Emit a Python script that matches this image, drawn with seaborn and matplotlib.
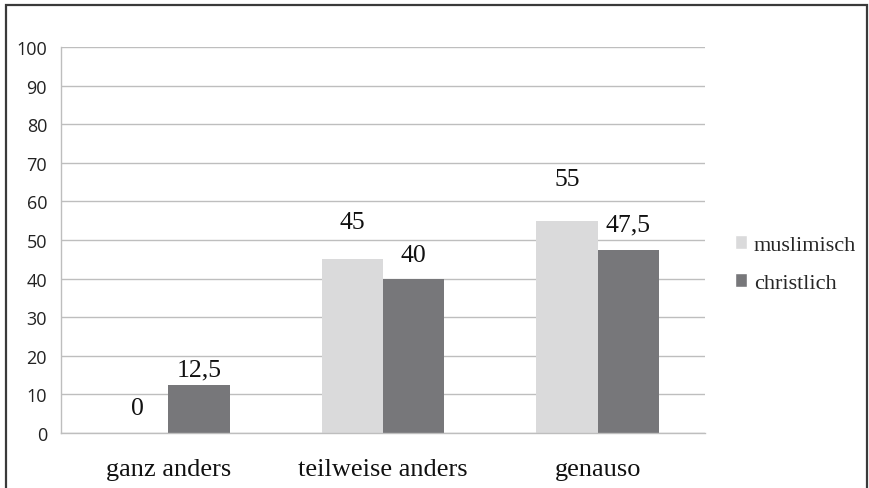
import pandas as pd
import matplotlib.pyplot as plt
import seaborn as sns
from matplotlib.patches import Rectangle

categories = ['ganz anders', 'teilweise anders', 'genauso']
groups = ['muslimisch', 'christlich']
muslimisch = [0, 45, 55]
christlich = [12.5, 40, 47.5]
value_labels = {'muslimisch': ['0', '45', '55'], 'christlich': ['12,5', '40', '47,5']}

colors = {'muslimisch': '#DADADB', 'christlich': '#77777A'}
# label offsets above bar tops (points)
label_pads = {'muslimisch': [10, 19, 22], 'christlich': [3, 9, 10]}

df = pd.DataFrame({
    'Kategorie': categories * 2,
    'Gruppe': ['muslimisch'] * 3 + ['christlich'] * 3,
    'Wert': muslimisch + christlich,
})

sns.set_style('white')
plt.rcParams['font.family'] = ['Open Sans', 'DejaVu Sans']

fig = plt.figure(figsize=(8.69, 4.89), dpi=100)
ax = fig.add_axes([61 / 869, 55 / 489, 644 / 869, 386 / 489])

sns.barplot(data=df, x='Kategorie', y='Wert', hue='Gruppe', order=categories,
            hue_order=groups, palette=colors, width=0.57, gap=0,
            saturation=1, linewidth=0, ax=ax, legend=False)

for cont, grp in zip(ax.containers, groups):
    for bar, txt, pad in zip(cont, value_labels[grp], label_pads[grp]):
        ax.annotate(txt, (bar.get_x() + bar.get_width() / 2, bar.get_height()),
                    xytext=(0, pad), textcoords='offset points',
                    ha='center', va='bottom', fontsize=18.5,
                    family='Liberation Serif', color='#111111')

ax.set_ylim(0, 100)
ax.set_xlim(-0.5, 2.5)
ax.set_yticks(range(0, 101, 10))
ax.set_yticklabels([str(v) for v in range(0, 101, 10)], family='Open Sans', fontsize=13)
ax.yaxis.grid(True, color='#BEBEBE', linewidth=1)
ax.set_axisbelow(True)
ax.set_xlabel('')
ax.set_ylabel('')

for s in ['top', 'right']:
    ax.spines[s].set_visible(False)
for s in ['left', 'bottom']:
    ax.spines[s].set_color('#BEBEBE')
    ax.spines[s].set_linewidth(1)

ax.tick_params(axis='y', length=6, color='#BEBEBE', labelcolor='#222222', pad=4)
ax.set_xticks([0, 1, 2])
ax.set_xticklabels(categories, family='Liberation Serif', fontsize=19, color='#111111')
ax.tick_params(axis='x', which='major', length=0, pad=18)
ax.set_xticks([-0.5, 0.5, 1.5, 2.5], minor=True)
ax.tick_params(axis='x', which='minor', length=8, color='#BEBEBE', width=1)

handles = [Rectangle((0, 0), 1, 1, facecolor=colors[g]) for g in groups]
fig.legend(handles, groups, loc='center left', bbox_to_anchor=(735 / 869, 1 - 265 / 489),
           frameon=False, prop={'family': 'Liberation Serif', 'size': 16},
           handlelength=0.55, handleheight=0.55, handletextpad=0.3,
           labelspacing=0.82, borderpad=0, borderaxespad=0)

fig.add_artist(Rectangle((6 / 869, -0.1), 861 / 869, 1.1 - 6 / 489,
                         transform=fig.transFigure, fill=False,
                         edgecolor='#3A3A3A', linewidth=1.6))

fig.savefig('out.png', dpi=100)
